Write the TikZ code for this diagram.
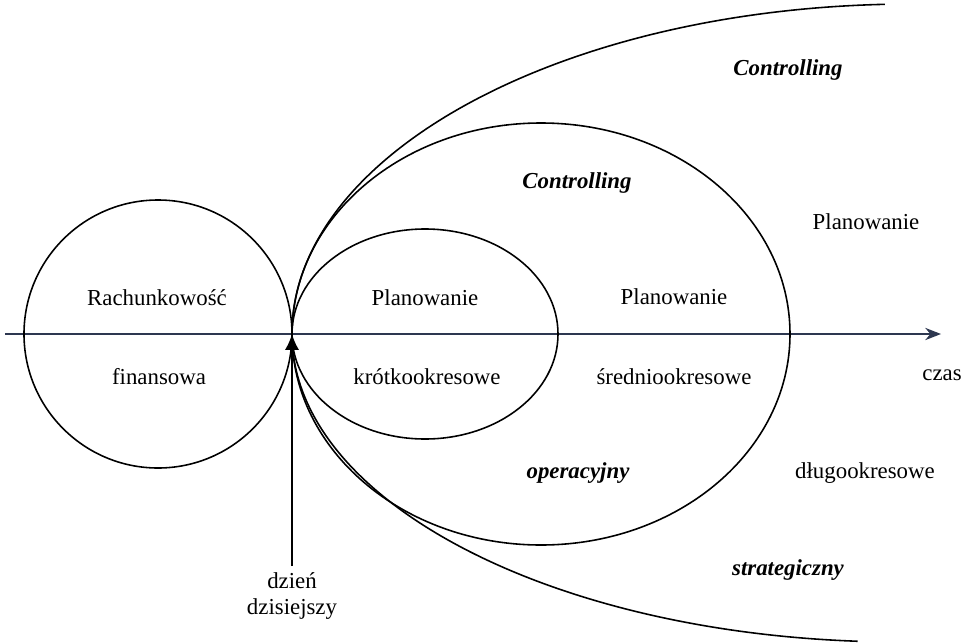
\documentclass[tikz,border=0pt]{standalone}
\usepackage{fontspec}
\setmainfont{Liberation Serif}
\usetikzlibrary{arrows.meta}
\definecolor{osgray}{RGB}{45,55,80}
\begin{document}
\begin{tikzpicture}[
    etykieta/.style={font=\fontsize{13}{15}\selectfont},
    wyroznienie/.style={font=\fontsize{13}{15}\selectfont\bfseries\itshape},
    linia/.style={line width=0.9pt}
]
    % Ramka obrazka
    \useasboundingbox (-5.84,-6.16) rectangle (13.54,6.68);

    % Oś czasu
    \coordinate (start) at (-5.74,0);
    \coordinate (koniec) at (12.98,0);
    \coordinate (dzis) at (0,0);
    \draw[osgray,line width=0.8pt,-{Stealth[length=9pt,width=7pt]}] (start) -- (koniec);
    \node[etykieta] (czas) at (13.0,-0.82) {czas};

    % Rachunkowość finansowa
    \draw[linia] (-2.68,0) circle (2.68);
    \node[etykieta] (rach) at (-2.7,0.72) {Rachunkowość};
    \node[etykieta] (fin) at (-2.66,-0.86) {finansowa};

    % Planowanie krótkookresowe
    \draw[linia] (2.66,0) ellipse [x radius=2.66, y radius=2.1];
    \node[etykieta] (plank) at (2.66,0.72) {Planowanie};
    \node[etykieta] (krotk) at (2.7,-0.86) {krótkookresowe};

    % Planowanie średniookresowe
    \draw[linia] (4.98,0) ellipse [x radius=4.98, y radius=4.22];
    \node[etykieta] (plans) at (7.64,0.74) {Planowanie};
    \node[etykieta] (sredn) at (7.64,-0.86) {średniookresowe};
    \node[wyroznienie] (ctrlo) at (5.7,3.02) {Controlling};
    \node[wyroznienie] (oper) at (5.72,-2.78) {operacyjny};

    % Planowanie długookresowe
    \draw[linia] (dzis) arc[start angle=180, end angle=92.5, x radius=12.4, y radius=6.6];
    \draw[linia] (dzis) arc[start angle=180, end angle=266, x radius=12.16, y radius=6.16];
    \node[etykieta] (pland) at (11.48,2.24) {Planowanie};
    \node[etykieta] (dlugo) at (11.46,-2.78) {długookresowe};
    \node[wyroznienie] (ctrls) at (9.92,5.28) {Controlling};
    \node[wyroznienie] (strat) at (9.92,-4.72) {strategiczny};

    % Dzień dzisiejszy
    \node[etykieta,align=center] (dzien) at (0,-5.24) {dzień\\dzisiejszy};
    \draw[linia,-{Latex[length=9pt,width=8pt]}] (dzien) -- (dzis);
\end{tikzpicture}
\end{document}
